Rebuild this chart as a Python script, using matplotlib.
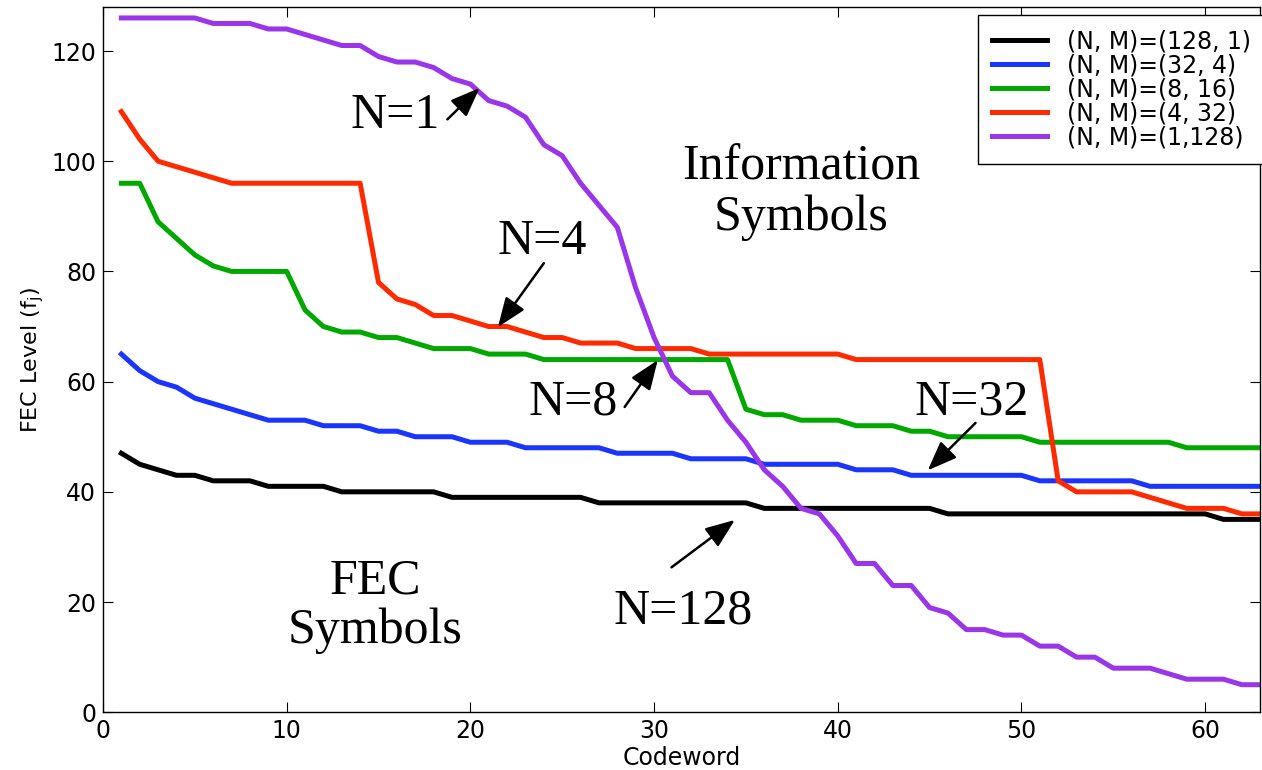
"""FEC level per codeword for different (N, M) interleaving configurations."""

import matplotlib

matplotlib.use("Agg")
import matplotlib.pyplot as plt

codeword = list(range(1, 64))

fec_128_1 = [47, 45, 44, 43, 43, 42, 42, 42, 41, 41, 41, 41, 40, 40, 40, 40, 40, 40,
             39, 39, 39, 39, 39, 39, 39, 39, 38, 38, 38, 38, 38, 38, 38, 38, 38,
             37, 37, 37, 37, 37, 37, 37, 37, 37, 37, 36, 36, 36, 36, 36, 36, 36,
             36, 36, 36, 36, 36, 36, 36, 36, 35, 35, 35]
fec_32_4 = [65, 62, 60, 59, 57, 56, 55, 54, 53, 53, 53, 52, 52, 52, 51, 51, 50, 50,
            50, 49, 49, 49, 48, 48, 48, 48, 48, 47, 47, 47, 47, 46, 46, 46, 46,
            45, 45, 45, 45, 45, 44, 44, 44, 43, 43, 43, 43, 43, 43, 43, 42, 42,
            42, 42, 42, 42, 41, 41, 41, 41, 41, 41, 41]
fec_8_16 = [96, 96, 89, 86, 83, 81, 80, 80, 80, 80, 73, 70, 69, 69, 68, 68, 67, 66,
            66, 66, 65, 65, 65, 64, 64, 64, 64, 64, 64, 64, 64, 64, 64, 64, 55,
            54, 54, 53, 53, 53, 52, 52, 52, 51, 51, 50, 50, 50, 50, 50, 49, 49,
            49, 49, 49, 49, 49, 49, 48, 48, 48, 48, 48]
fec_4_32 = [109, 104, 100, 99, 98, 97, 96, 96, 96, 96, 96, 96, 96, 96, 78, 75, 74,
            72, 72, 71, 70, 70, 69, 68, 68, 67, 67, 67, 66, 66, 66, 66, 65, 65,
            65, 65, 65, 65, 65, 65, 64, 64, 64, 64, 64, 64, 64, 64, 64, 64, 64,
            42, 40, 40, 40, 40, 39, 38, 37, 37, 37, 36, 36]
fec_1_128 = [126, 126, 126, 126, 126, 125, 125, 125, 124, 124, 123, 122, 121, 121,
             119, 118, 118, 117, 115, 114, 111, 110, 108, 103, 101, 96, 92, 88, 77,
             68, 61, 58, 58, 53, 49, 44, 41, 37, 36, 32, 27, 27, 23, 23, 19, 18,
             15, 15, 14, 14, 12, 12, 10, 10, 8, 8, 8, 7, 6, 6, 6, 5, 5]

series_labels = ["(N, M)=(128, 1)", "(N, M)=(32, 4)", "(N, M)=(8, 16)",
                 "(N, M)=(4, 32)", "(N, M)=(1,128)"]
series_colors = ["#000000", "#1a35ff", "#00a800", "#ff2a00", "#9a35ea"]

fig = plt.figure(figsize=(12.62, 7.70), dpi=100)
ax = fig.add_axes([0.0816, 0.075, 0.917, 0.916])

all_series = [fec_128_1, fec_32_4, fec_8_16, fec_4_32, fec_1_128]
for values, label, color in zip(all_series, series_labels, series_colors):
    ax.plot(codeword, values, color=color, lw=3.6, label=label)

ax.set_xlim(0, 63)
ax.set_ylim(0, 128)
ax.set_xticks(range(0, 61, 10))
ax.set_yticks(range(0, 121, 20))
ax.tick_params(direction="in", length=7, top=True, right=True, labelsize=17, pad=5)
for side in ax.spines.values():
    side.set_linewidth(1.0)

ax.set_xlabel("Codeword", fontsize=17, labelpad=2)
ax.set_ylabel("FEC Level (f$_{\\mathregular{j}}$)", fontsize=16, labelpad=4)

leg = ax.legend(loc="upper right", bbox_to_anchor=(1.004, 0.988), borderaxespad=0,
                fontsize=17, handlelength=2.3, handletextpad=0.85, labelspacing=0.0,
                borderpad=0.6, fancybox=False, framealpha=1, edgecolor="black")
leg.get_frame().set_linewidth(1.0)

serif = ["Liberation Serif", "DejaVu Serif"]
note_size = 36

ax.text(38.0, 94.3, "Information\nSymbols", family=serif, fontsize=note_size,
        ha="center", va="center", linespacing=1.1)
ax.text(14.8, 19.3, "FEC\nSymbols", family=serif, fontsize=note_size,
        ha="center", va="center", linespacing=1.1)

arrow = dict(arrowstyle="-|>,head_length=0.9,head_width=0.35", color="black", lw=1.8,
             shrinkA=0, shrinkB=0, mutation_scale=20)
notes = [
    ("N=1", (15.9, 108.3), (18.75, 107.6), (20.5, 113.3)),
    ("N=4", (23.9, 85.3), (24.0, 81.5), (21.5, 69.9)),
    ("N=8", (25.6, 56.2), (28.4, 55.4), (30.2, 63.9)),
    ("N=128", (31.6, 18.4), (30.95, 26.3), (34.4, 34.9)),
    ("N=32", (47.3, 56.2), (47.5, 52.5), (44.9, 43.9)),
]
for text, pos, tail, tip in notes:
    ax.text(pos[0], pos[1], text, family=serif, fontsize=note_size,
            ha="center", va="center")
    ax.annotate("", xy=tip, xytext=tail, arrowprops=arrow)

fig.savefig("out.png", dpi=100)
